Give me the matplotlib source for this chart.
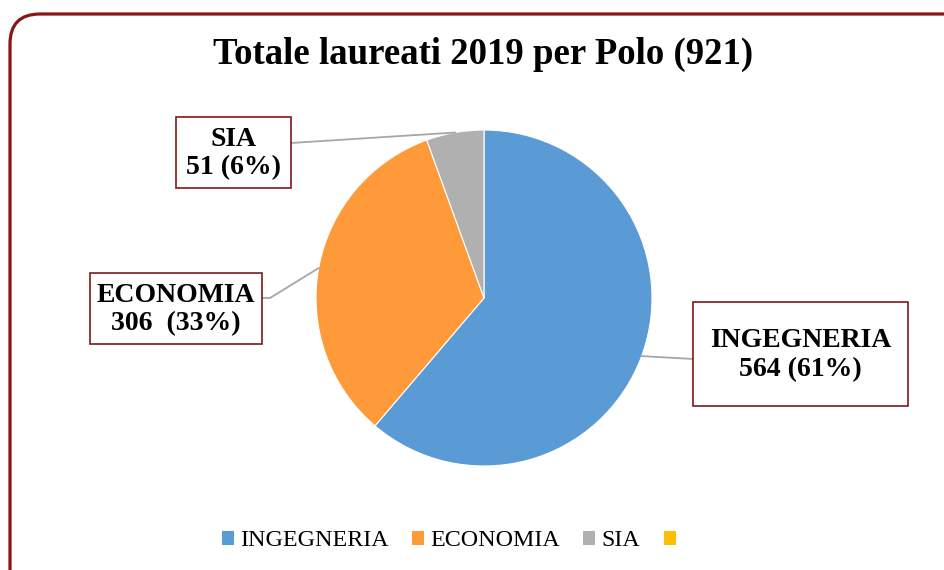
import numpy as np
import matplotlib
matplotlib.use("Agg")
import matplotlib.pyplot as plt
from matplotlib.patches import FancyBboxPatch, Rectangle
from matplotlib.lines import Line2D

# ---- data ----
categories = ["INGEGNERIA", "ECONOMIA", "SIA", ""]
values = [564, 306, 51, 0]
colors = ["#5B9BD5", "#FF9A3B", "#B0B0B0", "#FFC000"]
title = "Totale laureati 2019 per Polo (921)"
label_texts = ["INGEGNERIA\n564 (61%)", "ECONOMIA\n306  (33%)", "SIA\n51 (6%)"]

W, H = 944, 570
fig = plt.figure(figsize=(W / 100, H / 100), dpi=100)
fig.patch.set_facecolor("white")

def fx(x):
    return x / W

def fy(y):
    return 1 - y / H

serif = ["Liberation Serif", "DejaVu Serif"]

# outer rounded frame
frame = FancyBboxPatch((10, -40), 930 + 40, 570 + 40 - 14,
                       boxstyle="round,pad=0,rounding_size=30",
                       transform=None, facecolor="none",
                       edgecolor="#8B1414", linewidth=2.3, zorder=0)
fig.add_artist(frame)

# pie axes
cx, cy, r = 484, 298, 168
ax = fig.add_axes([fx(cx - r), fy(cy + r), 2 * r / W, 2 * r / H])
nz = [(v, c) for v, c in zip(values, colors) if v > 0]
ax.pie([v for v, _ in nz], colors=[c for _, c in nz], startangle=90,
       counterclock=False, radius=1.0,
       wedgeprops=dict(edgecolor="white", linewidth=0.8))
ax.set_xlim(-1, 1)
ax.set_ylim(-1, 1)
ax.set_aspect("auto")
ax.axis("off")

# title
fig.text(fx(483), fy(54), title, ha="center", va="center",
         fontsize=26.5, fontweight="bold", family=serif)

# label boxes (pixel layout) and leader lines
boxes = [(693, 302, 908, 406), (90, 273, 262, 344), (176, 117, 291, 188)]
attach = [[(693, 359)],
          [(262, 298), (270, 298)],
          [(291, 143)]]
total = sum(values)
cum = 0
for i, (txt, box) in enumerate(zip(label_texts, boxes)):
    v = values[i]
    mid = (cum + v / 2) / total * 360
    cum += v
    ex = cx + r * np.sin(np.radians(mid))
    ey = cy - r * np.cos(np.radians(mid))
    pts = attach[i] + [(ex, ey)]
    xs = [fx(p[0]) for p in pts]
    ys = [fy(p[1]) for p in pts]
    fig.add_artist(Line2D(xs, ys, color="#A6A6A6", linewidth=1.3, zorder=1))
    x0, y0, x1, y1 = box
    fig.add_artist(Rectangle((fx(x0), fy(y1)), (x1 - x0) / W, (y1 - y0) / H,
                             transform=fig.transFigure, facecolor="white",
                             edgecolor="#7F1A1A", linewidth=1.2, zorder=2))
    fig.text(fx((x0 + x1) / 2), fy((y0 + y1) / 2 + 1), txt, ha="center",
             va="center", fontsize=20, fontweight="bold", family=serif,
             linespacing=1.2, zorder=3)

# legend
handles = [Rectangle((0, 0), 1, 1, facecolor=c, edgecolor="none") for c in colors]
leg = fig.legend(handles, categories, loc="center", bbox_to_anchor=(fx(452), fy(541)),
                 ncol=4, frameon=False, prop={"family": serif, "size": 17.3},
                 handlelength=0.5, handleheight=0.5, handletextpad=0.25,
                 columnspacing=0.97)

fig.savefig("out.png", dpi=100)
